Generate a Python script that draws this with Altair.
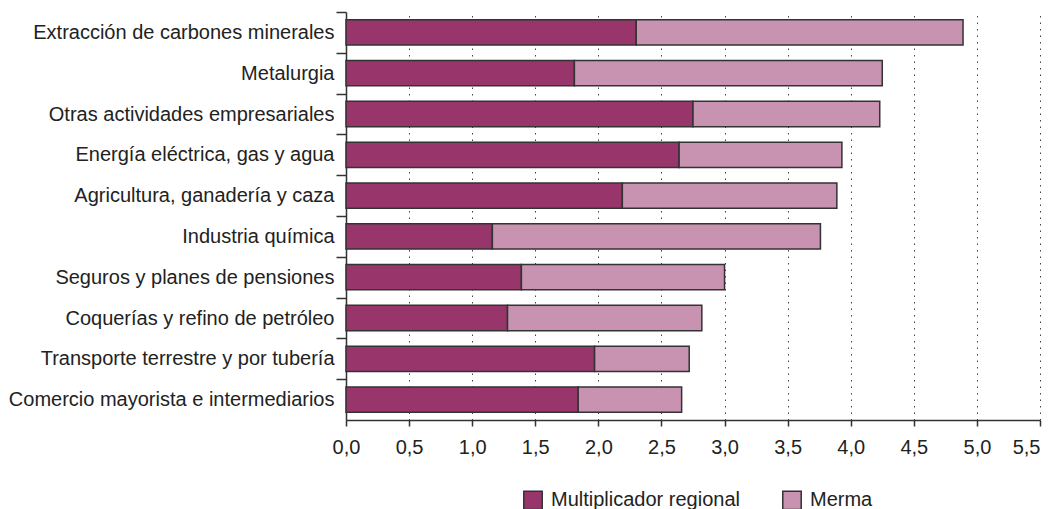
import altair as alt
import pandas as pd

categorias = [
    "Extracción de carbones minerales",
    "Metalurgia",
    "Otras actividades empresariales",
    "Energía eléctrica, gas y agua",
    "Agricultura, ganadería y caza ",
    "Industria química",
    "Seguros y planes de pensiones",
    "Coquerías y refino de petróleo",
    "Transporte terrestre y por tubería",
    "Comercio mayorista e intermediarios",
]
multiplicador = [2.30, 1.81, 2.75, 2.64, 2.19, 1.16, 1.39, 1.28, 1.97, 1.84]
merma = [2.59, 2.44, 1.48, 1.29, 1.70, 2.60, 1.61, 1.54, 0.75, 0.82]
series = ["Multiplicador regional", "Merma"]
colores = ["#98366C", "#C793B1"]
ticks_x = [0, 0.5, 1, 1.5, 2, 2.5, 3, 3.5, 4, 4.5, 5, 5.5]

rows = []
for c, m, r in zip(categorias, multiplicador, merma):
    rows.append({"cat": c, "serie": series[0], "valor": m, "orden": 0})
    rows.append({"cat": c, "serie": series[1], "valor": r, "orden": 1})
df = pd.DataFrame(rows)

FONT = "Liberation Sans"
STEP = 40.8

chart = alt.Chart(df).mark_bar(stroke="#333333", strokeWidth=1.5).encode(
    y=alt.Y(
        "cat:N",
        sort=categorias,
        title=None,
        scale=alt.Scale(paddingInner=0.38, paddingOuter=0.19),
        axis=alt.Axis(
            tickSize=10,
            tickColor="#333333",
            tickWidth=1.5,
            domainColor="#333333",
            domainWidth=1.5,
            labelPadding=2,
            labelFontSize=20,
            labelFont=FONT,
            labelColor="#222222",
            tickOffset=-STEP / 2,
            labelOffset=STEP / 2,
            labelLimit=400,
        ),
    ),
    x=alt.X(
        "valor:Q",
        stack="zero",
        title=None,
        scale=alt.Scale(domain=[0, 5.5], nice=False),
        axis=alt.Axis(
            values=ticks_x,
            labelExpr="replace(format(datum.value, '.1f'), '.', ',')",
            labelFlush=False,
            labelOverlap=False,
            labelAlign={"condition": {"test": "datum.value >= 5.5", "value": "right"}, "value": "center"},
            tickSize=6,
            tickColor="#333333",
            tickWidth=1.5,
            domainColor="#333333",
            domainWidth=1.5,
            labelPadding=11,
            labelFontSize=20,
            labelFont=FONT,
            labelColor="#222222",
            grid=True,
            gridDash=[1.5, 5],
            gridColor="#444444",
            gridWidth=1,
        ),
    ),
    color=alt.Color(
        "serie:N",
        scale=alt.Scale(domain=series, range=colores),
        legend=alt.Legend(
            title=None,
            orient="none",
            legendX=177,
            legendY=478,
            direction="horizontal",
            symbolType="square",
            symbolSize=340,
            symbolStrokeColor="#333333",
            symbolStrokeWidth=1.5,
            labelFontSize=20,
            labelFont=FONT,
            labelColor="#222222",
            labelOffset=8,
            labelLimit=400,
            columnPadding=39,
            padding=0,
        ),
    ),
    order=alt.Order("orden:Q"),
).properties(
    width=694,
    height=408,
    padding={"left": 338, "top": 4, "right": 7, "bottom": 89},
    autosize=alt.AutoSizeParams(type="none"),
).configure_view(stroke=None)

chart.save("out.html", embed_options={"renderer": "svg", "actions": False})
